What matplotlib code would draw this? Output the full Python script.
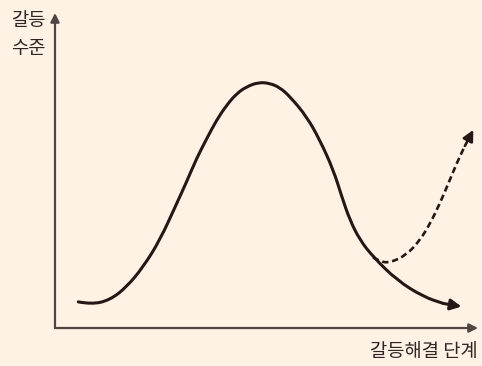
import matplotlib.pyplot as plt
from matplotlib.path import Path
from matplotlib.patches import PathPatch

plt.rcParams['font.family'] = ['Noto Sans CJK KR', 'DejaVu Sans']

BG = "#fdf2e3"
INK = "#231815"
AXIS = "#4e4544"

# conflict level over the resolution stages (0-100 on both axes)
stage = [5.5, 8.7, 13.0, 17.0, 20.9, 24.8, 28.8, 31.1, 33.5, 35.9, 38.2, 40.6, 43.0,
         45.3, 48.1, 50.8, 53.2, 55.6, 59.5, 62.6, 65.8, 67.8, 69.7, 72.1, 75.2,
         80.8, 87.1, 91.8, 96.1]
level = [8.3, 7.5, 8.9, 13.1, 19.5, 27.9, 39.6, 46.4, 53.9, 60.2, 66.0, 70.8, 74.5,
         76.6, 78.0, 77.7, 76.3, 73.4, 67.1, 59.7, 50.2, 41.7, 34.3, 27.9, 22.6,
         15.2, 9.9, 7.8, 6.8]

# conflict flaring up again after the decline
rebound_stage = [75.2, 76.8, 79.2, 83.1, 86.3, 88.7, 91.0, 93.0, 95.0, 96.9, 98.9]
rebound_level = [22.4, 21.1, 20.7, 23.2, 27.9, 33.2, 39.6, 45.9, 52.4, 57.8, 62.9]

y_label = "갈등\n수준"
x_label = "갈등해결 단계"


def smooth_path(xs, ys):
    # quadratic bezier through the midpoints, using the points as controls
    pts = list(zip(xs, ys))
    verts = [pts[0]]
    codes = [Path.MOVETO]
    for i in range(1, len(pts) - 1):
        mid = ((pts[i][0] + pts[i + 1][0]) / 2, (pts[i][1] + pts[i + 1][1]) / 2)
        verts += [pts[i], mid]
        codes += [Path.CURVE3, Path.CURVE3]
    verts.append(pts[-1])
    codes.append(Path.LINETO)
    return Path(verts, codes)


fig = plt.figure(figsize=(4.82, 3.66), dpi=100, facecolor=BG)
ax = fig.add_axes([0.1141, 0.1038, 0.8776, 0.8607])
ax.set_facecolor(BG)
ax.set_xlim(0, 100)
ax.set_ylim(0, 100)
ax.axis("off")

# axes with arrow heads
arrow_ax = dict(arrowstyle="-|>", color=AXIS, lw=1.6, mutation_scale=13, shrinkA=0, shrinkB=0)
ax.annotate("", xy=(0, 1), xytext=(0, 0), xycoords="axes fraction", arrowprops=arrow_ax)
ax.annotate("", xy=(1, 0), xytext=(0, 0), xycoords="axes fraction", arrowprops=arrow_ax)

# main curve
ax.add_patch(PathPatch(smooth_path(stage[:-1], level[:-1]), fill=False,
                       edgecolor=INK, lw=2.2, capstyle="round"))
ax.annotate("", xy=(stage[-1], level[-1]), xytext=(stage[-2], level[-2]),
            arrowprops=dict(arrowstyle="-|>", color=INK, lw=2.2, mutation_scale=16,
                            shrinkA=0, shrinkB=0))

# dashed rebound
ax.add_patch(PathPatch(smooth_path(rebound_stage[:-1], rebound_level[:-1]), fill=False,
                       edgecolor=INK, lw=1.9, ls=(0, (2.4, 1.4))))
ax.annotate("", xy=(rebound_stage[-1], rebound_level[-1]),
            xytext=(rebound_stage[-2], rebound_level[-2]),
            arrowprops=dict(arrowstyle="-|>", color=INK, lw=1.9, mutation_scale=16,
                            shrinkA=0, shrinkB=0))

fig.text(0.022, 0.972, y_label, ha="left", va="top", fontsize=13.5,
         color="#2e2626", linespacing=1.45)
fig.text(0.992, 0.012, x_label, ha="right", va="bottom", fontsize=13.5, color="#2e2626")

fig.savefig("out.png", dpi=100, facecolor=BG)
